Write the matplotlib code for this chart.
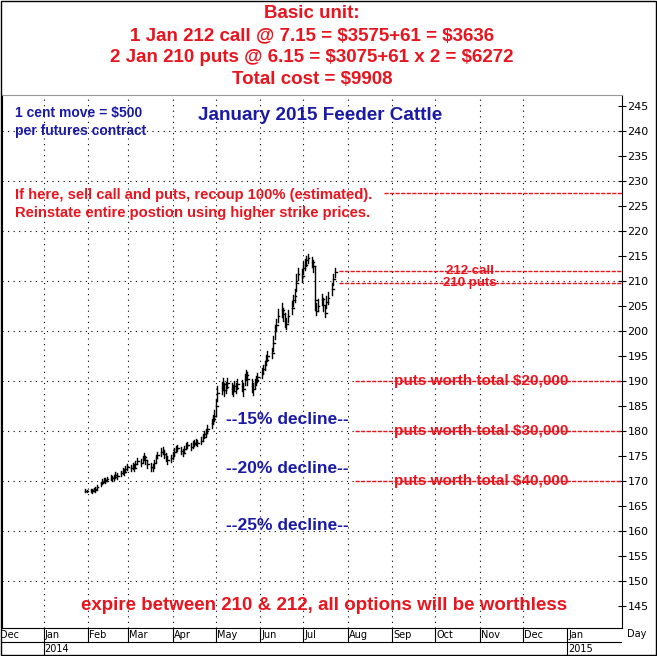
import numpy as np
import pandas as pd
import matplotlib.pyplot as plt

# --- price data (daily bars, Jan 30 - Jul 23 2014) ---
dates = pd.bdate_range("2014-01-30", "2014-07-23")
closes = [
    168.0, 168.0,
    168.1, 168.0, 168.3, 168.2, 168.8, 169.5, 169.8, 170.2, 170.0, 170.4,
    170.6, 170.5, 170.8, 171.2, 171.0, 171.6, 172.0, 171.8, 172.4, 172.8,
    172.5, 173.0, 172.6, 173.4, 174.0, 173.6, 174.4, 174.8, 174.2, 173.4,
    172.8, 172.6, 173.6, 174.6, 175.2, 175.8, 176.0, 175.4, 174.8, 174.2, 174.6,
    175.2, 175.8, 176.4, 176.6, 176.0, 175.6, 176.4, 177.0, 177.2, 176.8,
    177.4, 177.6, 177.8, 177.6, 178.0, 178.8, 179.4, 179.6, 180.4, 181.6, 182.4, 183.0,
    185.0, 187.6, 188.6, 189.4, 188.2, 188.8, 189.6, 188.4, 188.0, 189.0,
    188.6, 189.4, 189.0, 188.4, 190.4, 191.2, 190.4, 189.0, 188.4, 189.6, 190.2, 190.8,
    191.6, 192.4, 193.2, 194.2, 195.0, 195.6, 197.6, 200.0, 201.2, 203.0,
    204.2, 203.4, 202.0, 201.4, 203.0, 204.6, 206.2, 207.0, 209.6, 211.4, 211.0,
    212.6, 213.2, 214.2, 214.6, 213.8, 213.0, 206.2, 204.0, 205.0, 206.4,
    205.2, 203.6, 205.8, 206.6, 208.4, 210.4, 211.8,
]
highs = [
    168.3, 168.2,
    168.4, 168.3, 168.6, 168.7, 169.2, 169.8, 170.3, 170.6, 170.5, 170.8,
    171.2, 170.9, 171.2, 171.8, 171.6, 172.0, 172.6, 172.3, 172.9, 173.3,
    173.2, 173.6, 173.3, 174.0, 174.6, 174.4, 175.0, 175.6, 175.0, 174.2,
    173.6, 173.4, 174.2, 175.2, 175.8, 176.6, 176.7, 176.2, 175.6, 175.0, 175.2,
    175.8, 176.6, 177.0, 177.2, 176.8, 176.4, 177.0, 177.6, 177.8, 177.6,
    178.0, 178.2, 178.4, 178.2, 178.8, 179.4, 180.0, 180.4, 181.2, 182.4, 183.2, 184.2,
    186.4, 189.0, 189.8, 190.6, 189.6, 189.8, 190.6, 189.6, 189.2, 190.0,
    189.6, 190.4, 190.2, 189.6, 191.4, 192.2, 191.8, 190.4, 189.6, 190.4, 191.0, 191.6,
    192.6, 193.2, 194.0, 195.2, 196.0, 196.6, 199.0, 201.2, 202.4, 204.4,
    205.6, 204.6, 203.6, 202.6, 204.2, 206.0, 207.2, 208.4, 211.4, 212.6, 212.4,
    213.8, 214.4, 215.0, 215.4, 214.8, 214.2, 213.0, 205.6, 206.4, 207.4,
    206.6, 205.0, 207.0, 207.8, 209.6, 211.4, 212.6,
]
lows = [
    167.8, 167.7,
    167.8, 167.6, 167.9, 167.8, 168.3, 169.0, 169.3, 169.7, 169.5, 169.9,
    170.1, 170.0, 170.2, 170.6, 170.4, 171.0, 171.4, 171.2, 171.8, 172.2,
    171.9, 172.4, 172.0, 172.8, 173.4, 173.0, 173.8, 174.2, 173.4, 172.6,
    172.0, 172.0, 172.8, 173.8, 174.6, 175.0, 175.3, 174.6, 174.0, 173.4, 173.8,
    174.4, 175.0, 175.8, 176.0, 175.4, 175.0, 175.6, 176.4, 176.6, 176.2,
    176.6, 177.0, 177.2, 177.0, 177.4, 178.0, 178.6, 178.8, 179.6, 180.6, 181.4, 182.0,
    183.2, 186.0, 187.4, 188.2, 187.0, 187.6, 188.6, 187.4, 187.0, 188.0,
    187.6, 188.4, 188.0, 187.0, 189.2, 190.2, 189.2, 187.8, 187.2, 188.6, 189.2, 189.8,
    190.6, 191.4, 192.2, 193.2, 194.0, 194.6, 196.0, 198.4, 200.0, 201.8,
    202.8, 202.0, 200.8, 200.4, 201.8, 203.4, 205.0, 205.8, 208.0, 210.2, 209.8,
    211.4, 212.2, 213.0, 213.6, 212.8, 211.8, 204.2, 203.2, 204.0, 205.2,
    204.0, 202.8, 204.6, 205.4, 207.2, 209.2, 210.8,
]

# --- reference lines: (price, x start day, label) ---
ref_prices = [227.5, 212.0, 209.6, 190.0, 180.0, 170.0]
ref_starts = [237, 206, 206, 217, 217, 217]
ref_labels = ["", "212 call", "210 puts", "puts worth total $20,000",
              "puts worth total $30,000", "puts worth total $40,000"]
ref_label_x = [0, 297, 297, 305, 305, 305]

decline_labels = ["--15% decline--", "--20% decline--", "--25% decline--"]
decline_prices = [182.2, 172.4, 161.2]

month_names = ["Dec", "Jan", "Feb", "Mar", "Apr", "May", "Jun", "Jul",
               "Aug", "Sep", "Oct", "Nov", "Dec", "Jan"]
month_starts = pd.date_range("2013-12-01", "2015-01-01", freq="MS")

base = pd.Timestamp("2014-01-01")
x0, x1 = -29, 403
y0, y1 = 140.6, 247.2

plt.rcParams["text.parse_math"] = False

fig = plt.figure(figsize=(6.57, 6.56), dpi=100)
ax = fig.add_axes([0.003, 28 / 656, 620 / 657, (628 - 95) / 656])
ax.set_xlim(x0, x1)
ax.set_ylim(y0, y1)

days = np.array([(d - base).days for d in dates])
for d, h, l, c in zip(days, highs, lows, closes):
    ax.plot([d, d], [l, h], color="black", lw=1)
    ax.plot([d, d + 1.2], [c, c], color="black", lw=1)

# grid
for p in range(150, 250, 10):
    ax.axhline(p, color="black", lw=0.8, ls=(0, (1, 4)))
for m in month_starts[1:-1]:
    ax.axvline((m - base).days, color="black", lw=0.8, ls=(0, (1, 4)))

# right axis
ax.yaxis.tick_right()
ax.set_yticks(np.arange(145, 250, 5))
ax.tick_params(axis="y", direction="inout", length=6, labelsize=8, pad=1)
ax.set_xticks([])
ax.spines["top"].set_color("#999999")

red = "#e8141e"
blue = "#1a1aa6"
font = "Liberation Sans"
for p, s, lab, lx in zip(ref_prices, ref_starts, ref_labels, ref_label_x):
    ax.plot([s, x1], [p, p], color=red, lw=1, ls=(0, (3, 1)))
    if lab:
        fs = 9.5 if "call" in lab or "210" in lab else 11
        ax.text(lx, p, lab, color=red, fontsize=fs, fontweight="bold",
                ha="center", va="center", family=font)

for lab, p in zip(decline_labels, decline_prices):
    ax.text(170, p, lab, color=blue, fontsize=12.5, fontweight="bold",
            ha="center", va="center", family=font)

title = ["Basic unit:", "1 Jan 212 call @ 7.15 = $3575+61 = $3636",
         "2 Jan 210 puts @ 6.15 = $3075+61 x 2 = $6272", "Total cost = $9908"]
title_y = [13, 36, 58, 80]
for t, ty in zip(title, title_y):
    fig.text(312 / 657, 1 - ty / 656, t, color=red, fontsize=13.5,
             fontweight="bold", ha="center", va="center", family=font)

fig.text(320 / 657, 1 - 116 / 656, "January 2015 Feeder Cattle", color=blue,
         fontsize=13.6, fontweight="bold", ha="center", va="center", family=font)
fig.text(15 / 657, 1 - 122 / 656, "1 cent move = $500\nper futures contract", color=blue,
         fontsize=10, fontweight="bold", ha="left", va="center",
         linespacing=1.3, family=font)
fig.text(15 / 657, 1 - 204 / 656,
         "If here, sell call and puts, recoup 100% (estimated).\n"
         "Reinstate entire postion using higher strike prices.",
         color=red, fontsize=10.6, fontweight="bold", ha="left", va="center",
         linespacing=1.4, family=font)
fig.text(324 / 657, 1 - 606 / 656, "expire between 210 & 212, all options will be worthless",
         color=red, fontsize=13.5, fontweight="bold", ha="center", va="center",
         family=font)

# date strip
bx = fig.add_axes([0.003, 0.0, 620 / 657, 28 / 656])
bx.set_xlim(x0, x1)
bx.set_ylim(0, 2)
bx.axis("off")
bx.axhline(1, color="black", lw=0.8)
for name, m in zip(month_names, month_starts):
    d = (m - base).days
    bx.plot([d, d], [1, 2], color="black", lw=0.8)
    bx.text(d + 0.8, 1.5, name, fontsize=7, va="center", ha="left")
for yr in [2014, 2015]:
    d = (pd.Timestamp(f"{yr}-01-01") - base).days
    bx.plot([d, d], [0, 1], color="black", lw=0.8)
    bx.text(d + 0.8, 0.5, str(yr), fontsize=7, va="center", ha="left")
fig.text(627 / 657, 1 - 634 / 656, "Day", fontsize=7, va="center", ha="left")

fig.patches.append(plt.Rectangle((0.001, 0.001), 0.998, 0.998, transform=fig.transFigure,
                                 fill=False, edgecolor="black", lw=1))
fig.savefig("out.png", dpi=100)
